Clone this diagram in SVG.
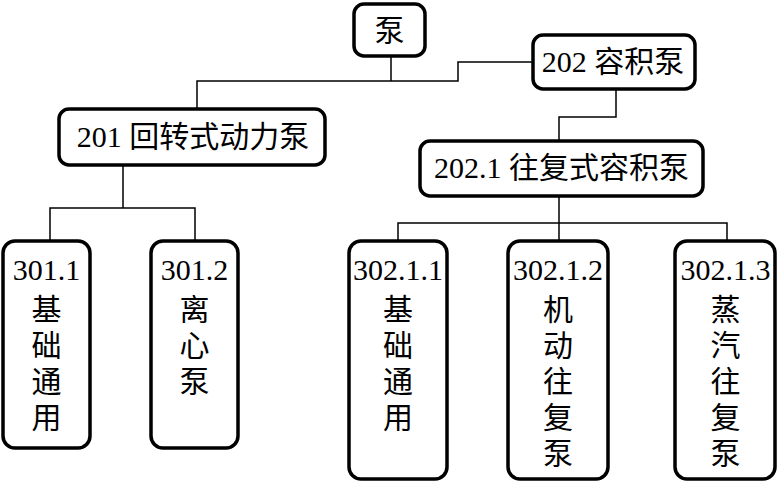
<svg xmlns="http://www.w3.org/2000/svg" width="778" height="482" viewBox="0 0 778 482">
<style>
.box{fill:#fff;stroke:#000;stroke-width:3.5}
.t{font-family:"Liberation Serif","Noto Sans CJK SC",serif;font-size:30px;fill:#000;text-anchor:middle}
.c{fill:none;stroke:#000;stroke-width:1.5}
</style>
<rect width="778" height="482" fill="#fff"/>
<g id="connectors">
<path class="c" d="M391 56V81M197 108V81H458V62H532"/>
<path class="c" d="M616 89V117H559V140"/>
<path class="c" d="M123 165V208M50 240V208H195V240"/>
<path class="c" d="M559 196V223M398 240V223H727V240M559 223V240"/>
</g>
<g id="n-root"><rect class="box" x="354" y="4" width="71" height="52" rx="10"/><text class="t" x="389.5" y="41">泵</text></g>
<g id="n-202"><rect class="box" x="533" y="35" width="162" height="54" rx="10"/><text class="t" x="613" y="72">202 容积泵</text></g>
<g id="n-201"><rect class="box" x="59" y="109" width="266" height="56" rx="10"/><text class="t" x="193" y="147">201 回转式动力泵</text></g>
<g id="n-202-1"><rect class="box" x="420" y="141" width="283" height="55" rx="10"/><text class="t" x="561.5" y="178">202.1 往复式容积泵</text></g>
<g id="n-301-1"><rect class="box" x="3" y="241" width="87" height="207" rx="12"/>
<text class="t" x="46.5"><tspan x="46.5" y="280">301.1</tspan><tspan x="46.5" y="320">基</tspan><tspan x="46.5" y="356">础</tspan><tspan x="46.5" y="392">通</tspan><tspan x="46.5" y="428">用</tspan></text></g>
<g id="n-301-2"><rect class="box" x="151" y="241" width="87" height="207" rx="12"/>
<text class="t" x="194.5"><tspan x="194.5" y="280">301.2</tspan><tspan x="194.5" y="320">离</tspan><tspan x="194.5" y="356">心</tspan><tspan x="194.5" y="392">泵</tspan></text></g>
<g id="n-302-1-1"><rect class="box" x="349" y="241" width="98" height="238" rx="12"/>
<text class="t" x="398"><tspan x="398" y="280">302.1.1</tspan><tspan x="398" y="320">基</tspan><tspan x="398" y="356">础</tspan><tspan x="398" y="392">通</tspan><tspan x="398" y="428">用</tspan></text></g>
<g id="n-302-1-2"><rect class="box" x="508" y="241" width="100" height="238" rx="12"/>
<text class="t" x="558"><tspan x="558" y="280">302.1.2</tspan><tspan x="558" y="320">机</tspan><tspan x="558" y="356">动</tspan><tspan x="558" y="392">往</tspan><tspan x="558" y="428">复</tspan><tspan x="558" y="464">泵</tspan></text></g>
<g id="n-302-1-3"><rect class="box" x="675" y="241" width="100" height="238" rx="12"/>
<text class="t" x="725.5"><tspan x="725.5" y="280">302.1.3</tspan><tspan x="725.5" y="320">蒸</tspan><tspan x="725.5" y="356">汽</tspan><tspan x="725.5" y="392">往</tspan><tspan x="725.5" y="428">复</tspan><tspan x="725.5" y="464">泵</tspan></text></g>
</svg>
